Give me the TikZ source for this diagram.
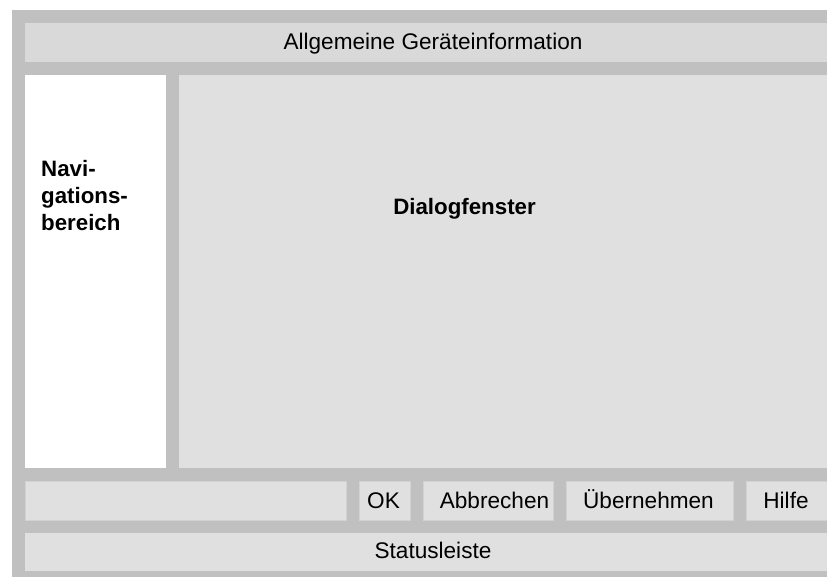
\documentclass[tikz,border=0pt]{standalone}
\usepackage{fontspec}
\setmainfont{Liberation Sans}
\definecolor{framegray}{HTML}{C0C0C0}
\definecolor{bargray}{HTML}{D9D9D9}
\definecolor{panelgray}{HTML}{E0E0E0}
\definecolor{btnedge}{HTML}{D2D2D2}
\tikzset{
  area/.style={rectangle, inner sep=0pt, outer sep=0pt, anchor=north west, fill=panelgray},
  btn/.style={area, draw=btnedge, line width=0.8pt},
  lbl/.style={inner sep=0pt, anchor=base, font=\fontsize{22.6}{27}\selectfont, text=black},
  blbl/.style={lbl, font=\fontsize{22.3}{27}\selectfont\bfseries}
}
\begin{document}
\begin{tikzpicture}[x=1pt,y=-1pt]
\useasboundingbox (0,0) rectangle (827,577);
\fill[framegray] (12,10) rectangle (845,577);
% top bar
\node[area, fill=bargray, minimum width=820pt, minimum height=39pt] (top) at (25,23) {};
\node[lbl] (toptxt) at (433,50) {Allgemeine Geräteinformation};
% navigation
\node[area, fill=white, minimum width=141pt, minimum height=393pt] (nav) at (25,75) {};
\node[blbl, anchor=base west, align=left] (navtxt) at (41,231) {Navi-\\gations-\\bereich};
% dialog
\node[area, minimum width=666pt, minimum height=393pt] (dlg) at (179,75) {};
\node[blbl] (dlgtxt) at (464.5,215) {Dialogfenster};
% button row
\node[btn, minimum width=321pt, minimum height=39pt] (empty) at (25,481) {};
\node[btn, minimum width=51pt, minimum height=39pt] (ok) at (359,481) {};
\node[btn, minimum width=130pt, minimum height=39pt] (cancel) at (423,481) {};
\node[btn, minimum width=167pt, minimum height=39pt] (apply) at (566,481) {};
\node[btn, minimum width=90pt, minimum height=39pt] (help) at (746,481) {};
\node[lbl] (oktxt) at (383.5,508) {OK};
\node[lbl] (canceltxt) at (494.5,508) {Abbrechen};
\node[lbl] (applytxt) at (648.5,508) {Übernehmen};
\node[lbl] (helptxt) at (786,508) {Hilfe};
% status bar
\node[area, minimum width=820pt, minimum height=38pt] (status) at (25,533) {};
\node[lbl] (statustxt) at (433,558) {Statusleiste};
\end{tikzpicture}
\end{document}
